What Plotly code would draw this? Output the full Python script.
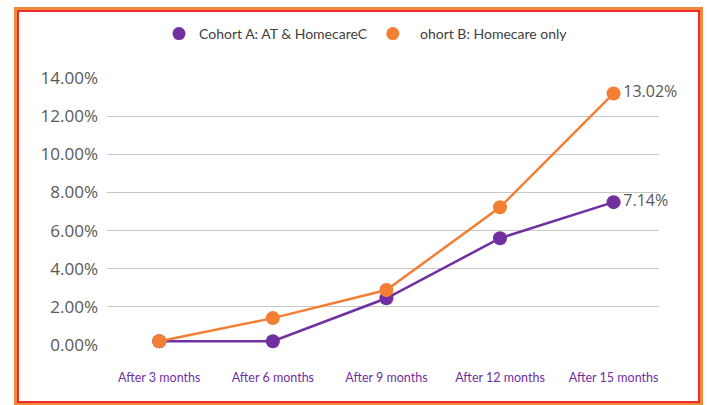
import plotly.graph_objects as go

categories = ["After 3 months", "After 6 months", "After 9 months", "After 12 months", "After 15 months"]
cohort_a = [0.002, 0.002, 0.0245, 0.056, 0.0749]
cohort_b = [0.002, 0.0141, 0.0288, 0.0722, 0.1319]
label_a = ["", "", "", "", "7.14%"]
label_b = ["", "", "", "", "13.02%"]
name_a = "Cohort A: AT & HomecareC"
name_b = "\u00a0\u00a0ohort B: Homecare only"
y_ticks = [0, 0.02, 0.04, 0.06, 0.08, 0.10, 0.12, 0.14]
y_tick_text = ["0.00%", "2.00%", "4.00%", "6.00%", "8.00%", "10.00%", "12.00%", "14.00%"]

W, H = 708, 405
ML, MR, MT, MB = 107, 49, 78, 60
PW, PH = W - ML - MR, H - MT - MB

def px(x):
    return (x - ML) / PW

def py(y):
    return 1 - (y - MT) / PH

PURPLE = "#7030A0"
ORANGE = "#F27F33"

fig = go.Figure()
for vals, labels, color, name in [(cohort_a, label_a, PURPLE, name_a), (cohort_b, label_b, ORANGE, name_b)]:
    fig.add_trace(go.Scatter(
        x=categories, y=vals, name=name, mode="lines+markers+text", showlegend=False,
        line=dict(color=color, width=2.5), marker=dict(color=color, size=14),
        text=labels, textposition="middle right",
        textfont=dict(family="Open Sans", size=16, color="#595959"),
        cliponaxis=False,
    ))
for color, name in [(PURPLE, name_a), (ORANGE, name_b)]:
    fig.add_trace(go.Scatter(
        x=[None], y=[None], name=name, mode="markers",
        marker=dict(color=color, size=13), showlegend=True,
    ))

shapes = [
    dict(type="rect", xref="paper", yref="paper",
         x0=px(15.5), x1=px(701.5), y0=py(404), y1=py(8.5),
         line=dict(color="#F08A3A", width=3), layer="above"),
    dict(type="rect", xref="paper", yref="paper",
         x0=px(18), x1=px(699), y0=py(402), y1=py(11),
         line=dict(color="#EE2A2A", width=2), layer="above"),
]

fig.update_layout(
    width=W, height=H,
    margin=dict(l=ML, r=MR, t=MT, b=MB),
    paper_bgcolor="white", plot_bgcolor="white",
    showlegend=True,
    legend=dict(orientation="h", x=px(366), xanchor="center", y=py(34), yanchor="middle",
                font=dict(family="Lato", size=14, color="#404040"),
                bgcolor="rgba(0,0,0,0)"),
    xaxis=dict(type="category", range=[-0.46, 4.4], showgrid=False, zeroline=False,
               showline=False, ticks="", ticklabelstandoff=23,
               tickfont=dict(family="Lato", size=12.5, color=PURPLE)),
    yaxis=dict(range=[0, 0.14], tickvals=y_ticks, ticktext=y_tick_text,
               showgrid=True, gridcolor="#C8C8C8", gridwidth=1, zeroline=False,
               showline=False, ticks="", ticklabelstandoff=8,
               tickfont=dict(family="Open Sans", size=17, color="#595959")),
    shapes=shapes,
)

fig.write_html("out.html", config={"displayModeBar": False},
               post_script="document.body.style.margin='0';document.body.style.overflow='hidden';")
